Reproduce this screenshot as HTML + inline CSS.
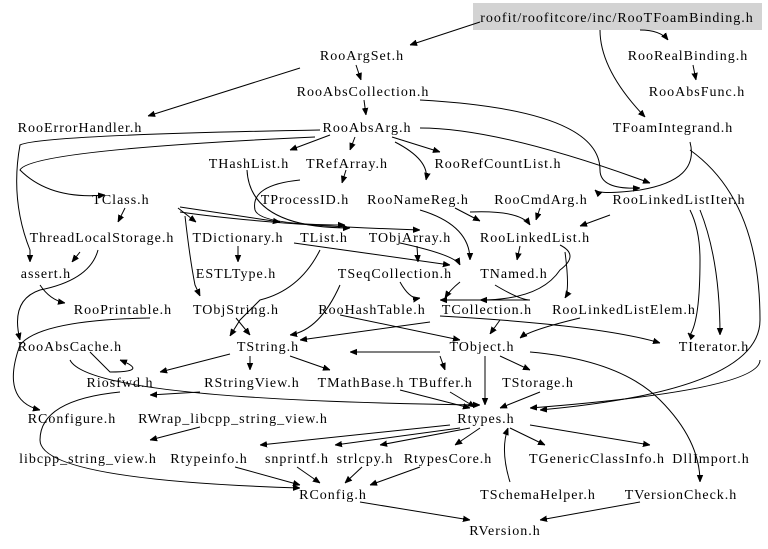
<!DOCTYPE html>
<html><head><meta charset="utf-8"><style>
body{margin:0;background:#fff}
svg{display:block}
text{font-family:"Liberation Serif",serif;font-size:14px;letter-spacing:1px;fill:#000;text-anchor:middle}
path,line{stroke:#000;stroke-width:1;fill:none}
</style></head><body>
<svg width="768" height="549" viewBox="0 0 768 549" xmlns="http://www.w3.org/2000/svg">
<defs><marker id="a" viewBox="0 0 10 10" refX="10" refY="5" markerWidth="7" markerHeight="7" markerUnits="userSpaceOnUse" orient="auto"><path d="M0,1L10,5L0,9z" style="fill:#000;stroke:#000"/></marker></defs>
<rect x="473" y="3" width="289" height="27" fill="#d3d3d3"/>
<g marker-end="url(#a)">
<path d="M480,22 L410,45"/>
<path d="M640,30 Q660,30 668,40"/>
<path d="M600,30 Q600,70 645,117"/>
<path d="M356,65 L361,80"/>
<path d="M300,68 L148,116"/>
<path d="M693,65 L696,80"/>
<path d="M364,100 L366,115"/>
<path d="M420,100 Q600,110 600,170 Q600,190 640,188"/>
<path d="M330,135 L290,150"/>
<path d="M355,137 L350,150"/>
<path d="M392,137 L440,152"/>
<path d="M395,142 Q430,160 426,180"/>
<path d="M420,128 Q500,128 650,183"/>
<path d="M320,130 Q40,135 20,145 Q10,200 30,250 L30,262"/>
<path d="M315,137 Q30,150 20,170 Q50,200 105,195"/>
<path d="M690,142 Q700,180 640,190 Q600,195 595,190"/>
<path d="M247,170 Q250,228 350,228"/>
<path d="M300,180 Q250,185 255,210 Q260,225 345,225"/>
<path d="M346,170 L342,183"/>
<path d="M420,210 Q470,225 470,260"/>
<path d="M455,208 L480,221"/>
<path d="M470,212 Q520,210 530,225"/>
<path d="M540,208 L536,220"/>
<path d="M610,215 L580,226"/>
<path d="M690,210 Q700,230 700,260 Q700,320 690,335 L688,333"/>
<path d="M700,210 Q720,260 720,335"/>
<path d="M125,208 L118,222"/>
<path d="M178,208 L196,222"/>
<path d="M180,207 L280,222"/>
<path d="M180,212 Q270,225 420,230"/>
<path d="M185,216 Q190,260 195,285 L200,296"/>
<path d="M80,252 L72,262"/>
<path d="M98,250 Q90,280 40,290 Q10,300 20,340"/>
<path d="M238,246 L238,262"/>
<path d="M294,243 L450,265"/>
<path d="M320,250 Q300,290 260,300 L240,320 L230,336"/>
<path d="M417,246 L418,262"/>
<path d="M400,243 Q455,255 460,265"/>
<path d="M520,246 L517,260"/>
<path d="M560,245 Q580,255 560,270 Q540,300 480,300"/>
<path d="M565,252 Q570,290 565,298"/>
<path d="M40,285 Q50,300 65,303"/>
<path d="M400,282 Q410,300 420,298"/>
<path d="M460,282 Q450,290 445,298"/>
<path d="M495,285 Q520,300 530,300 L440,300"/>
<path d="M340,285 Q320,330 290,335"/>
<path d="M500,320 L490,334"/>
<path d="M430,322 L300,340"/>
<path d="M440,316 Q600,325 660,343"/>
<path d="M340,315 L460,340"/>
<path d="M236,318 L250,335"/>
<path d="M580,318 Q530,330 520,338"/>
<path d="M150,318 Q40,320 20,345 Q0,400 40,410"/>
<path d="M230,354 L160,372"/>
<path d="M250,356 L250,370"/>
<path d="M290,356 L330,370"/>
<path d="M440,352 L350,352"/>
<path d="M440,356 L445,370"/>
<path d="M485,356 L485,405"/>
<path d="M500,356 L530,370"/>
<path d="M530,352 Q620,360 660,400 Q700,440 700,482"/>
<path d="M90,352 L110,372 Q150,372 120,360"/>
<path d="M760,360 Q760,390 530,408"/>
<path d="M690,150 Q760,200 760,320 Q760,390 540,410"/>
<path d="M70,360 Q90,400 480,405"/>
<path d="M200,392 L150,395"/>
<path d="M400,390 L470,408"/>
<path d="M450,392 L475,407"/>
<path d="M540,392 L500,408"/>
<path d="M120,392 Q40,400 40,440 Q40,480 300,488"/>
<path d="M200,427 L150,440"/>
<path d="M450,425 L260,445"/>
<path d="M460,428 L335,445"/>
<path d="M470,428 L380,445"/>
<path d="M480,428 L455,445"/>
<path d="M510,428 L545,445"/>
<path d="M530,425 L650,445"/>
<path d="M510,482 Q500,450 508,428"/>
<path d="M235,467 L300,485"/>
<path d="M297,467 L320,483"/>
<path d="M362,467 L345,483"/>
<path d="M420,467 L370,485"/>
<path d="M360,502 L470,520"/>
<path d="M640,502 L540,520"/>
</g>
<text x="617" y="22">roofit/roofitcore/inc/RooTFoamBinding.h</text>
<text x="362" y="60">RooArgSet.h</text>
<text x="688" y="60">RooRealBinding.h</text>
<text x="363" y="96">RooAbsCollection.h</text>
<text x="697" y="96">RooAbsFunc.h</text>
<text x="80" y="132">RooErrorHandler.h</text>
<text x="367" y="132">RooAbsArg.h</text>
<text x="673" y="132">TFoamIntegrand.h</text>
<text x="249" y="168">THashList.h</text>
<text x="347" y="168">TRefArray.h</text>
<text x="498" y="168">RooRefCountList.h</text>
<text x="121" y="204">TClass.h</text>
<text x="305" y="204">TProcessID.h</text>
<text x="418" y="204">RooNameReg.h</text>
<text x="541" y="204">RooCmdArg.h</text>
<text x="679" y="204">RooLinkedListIter.h</text>
<text x="102" y="242">ThreadLocalStorage.h</text>
<text x="238" y="242">TDictionary.h</text>
<text x="324" y="242">TList.h</text>
<text x="410" y="242">TObjArray.h</text>
<text x="535" y="242">RooLinkedList.h</text>
<text x="46" y="278">assert.h</text>
<text x="236" y="278">ESTLType.h</text>
<text x="395" y="278">TSeqCollection.h</text>
<text x="514" y="278">TNamed.h</text>
<text x="123" y="314">RooPrintable.h</text>
<text x="236" y="314">TObjString.h</text>
<text x="372" y="314">RooHashTable.h</text>
<text x="487" y="314">TCollection.h</text>
<text x="624" y="314">RooLinkedListElem.h</text>
<text x="70" y="351">RooAbsCache.h</text>
<text x="268" y="351">TString.h</text>
<text x="482" y="351">TObject.h</text>
<text x="714" y="351">TIterator.h</text>
<text x="120" y="387">Riosfwd.h</text>
<text x="252" y="387">RStringView.h</text>
<text x="361" y="387">TMathBase.h</text>
<text x="441" y="387">TBuffer.h</text>
<text x="538" y="387">TStorage.h</text>
<text x="72" y="423">RConfigure.h</text>
<text x="233" y="423">RWrap_libcpp_string_view.h</text>
<text x="486" y="423">Rtypes.h</text>
<text x="88" y="463">libcpp_string_view.h</text>
<text x="209" y="463">Rtypeinfo.h</text>
<text x="297" y="463">snprintf.h</text>
<text x="365" y="463">strlcpy.h</text>
<text x="448" y="463">RtypesCore.h</text>
<text x="597" y="463">TGenericClassInfo.h</text>
<text x="711" y="463">DllImport.h</text>
<text x="333" y="499">RConfig.h</text>
<text x="538" y="499">TSchemaHelper.h</text>
<text x="681" y="499">TVersionCheck.h</text>
<text x="505" y="535">RVersion.h</text>
</svg>
</body></html>
